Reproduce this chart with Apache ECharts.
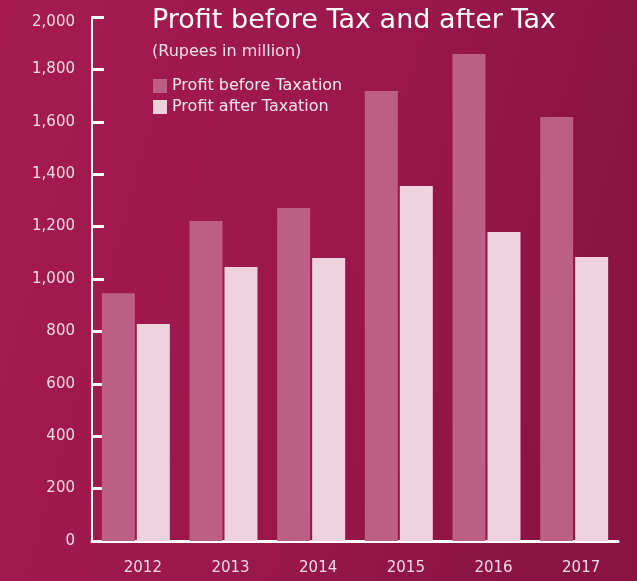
<!DOCTYPE html>
<html>
<head>
<meta charset="utf-8">
<script src="https://cdn.jsdelivr.net/npm/echarts@6/dist/echarts.min.js"></script>
<style>
html,body{margin:0;padding:0;background:#9d1a4d;}
#chart{width:637px;height:581px;}
</style>
</head>
<body>
<div id="chart"></div>
<script>
// Profit figures, Rupees in million
const years = ['2012', '2013', '2014', '2015', '2016', '2017'];
const profitBeforeTax = [946, 1221, 1271, 1718, 1859, 1618];
const profitAfterTax = [828, 1046, 1080, 1355, 1179, 1084];
const seriesNames = ['Profit before Taxation', 'Profit after Taxation'];
const yMax = 2000;

const FONT = 'DejaVu Sans';
const chart = echarts.init(document.getElementById('chart'));

chart.setOption({
  animation: false,
  backgroundColor: {
    type: 'linear', x: 0, y: 0, x2: 1, y2: 0.3,
    colorStops: [
      { offset: 0, color: '#a51b50' },
      { offset: 0.6, color: '#9a174b' },
      { offset: 1, color: '#8a1343' }
    ]
  },
  title: {
    text: 'Profit before Tax and after Tax',
    subtext: '(Rupees in million)',
    left: 147,
    top: 2,
    itemGap: 10,
    textStyle: { color: '#ffffff', fontFamily: FONT, fontSize: 27, fontWeight: 'normal' },
    subtextStyle: { color: '#f3dde6', fontFamily: FONT, fontSize: 16 }
  },
  legend: {
    orient: 'vertical',
    left: 148,
    top: 73,
    itemWidth: 14,
    itemHeight: 14,
    itemGap: 5,
    icon: 'rect',
    textStyle: { color: '#f6e6ec', fontFamily: FONT, fontSize: 16 },
    data: seriesNames
  },
  grid: { left: 92, right: 19, top: 17, bottom: 40 },
  xAxis: {
    type: 'category',
    data: years,
    axisLine: { lineStyle: { color: '#ffffff', width: 3 } },
    axisTick: { inside: true, length: 12, lineStyle: { color: '#ffffff', width: 2 } },
    axisLabel: { color: '#f0dbe4', fontFamily: FONT, fontSize: 15, margin: 20, padding: [0, 0, 0, 14] }
  },
  yAxis: {
    type: 'value',
    min: 0,
    max: yMax,
    interval: 200,
    axisLine: { show: true, lineStyle: { color: '#ffffff', width: 2 } },
    axisTick: { show: true, inside: true, length: 12, lineStyle: { color: '#ffffff', width: 3 } },
    splitLine: { show: false },
    axisLabel: {
      color: '#f0dbe4', fontFamily: FONT, fontSize: 15, margin: 17,
      formatter: v => {
        const s = v.toLocaleString('en-US');
        // the top label sits a little below its tick
        return v === yMax ? '{top|' + s + '}' : s;
      },
      rich: {
        top: { color: '#f0dbe4', fontFamily: FONT, fontSize: 15, padding: [11, 0, 0, 0] }
      }
    }
  },
  series: [
    {
      name: seriesNames[0],
      type: 'bar',
      data: profitBeforeTax,
      barWidth: 33,
      barGap: '6%',
      itemStyle: { color: '#bd5e85' }
    },
    {
      name: seriesNames[1],
      type: 'bar',
      data: profitAfterTax,
      barWidth: 33,
      itemStyle: { color: '#eed2dd' }
    }
  ]
});
</script>
</body>
</html>
